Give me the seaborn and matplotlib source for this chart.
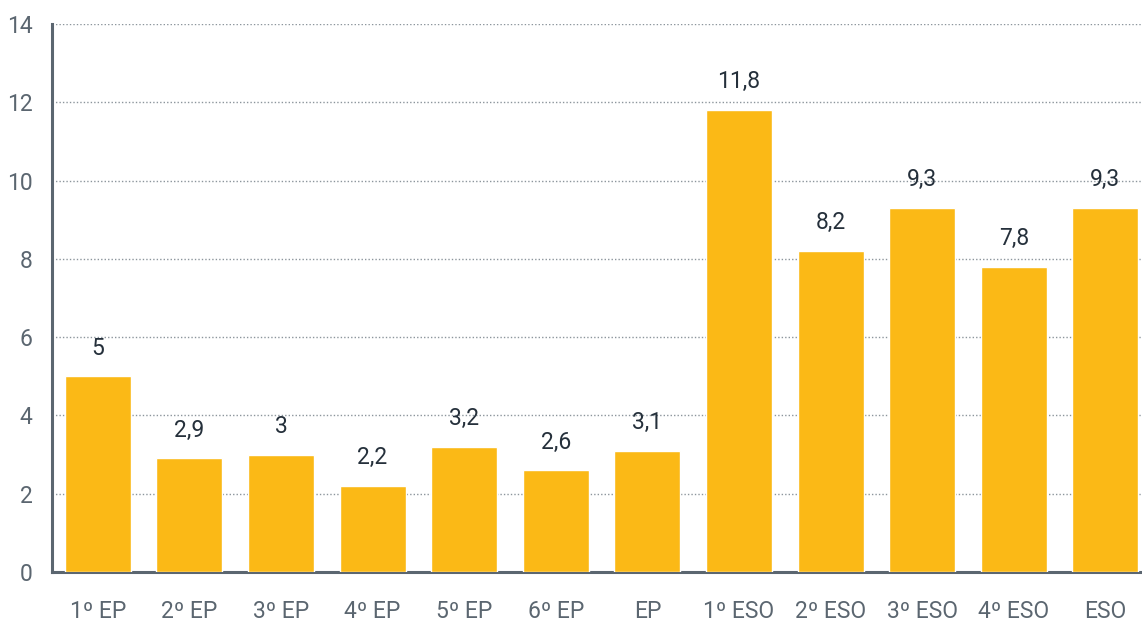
import matplotlib
matplotlib.use("Agg")
import matplotlib.pyplot as plt
import seaborn as sns
import pandas as pd

categories = ["1º EP", "2º EP", "3º EP", "4º EP", "5º EP", "6º EP", "EP",
              "1º ESO", "2º ESO", "3º ESO", "4º ESO", "ESO"]
values = [5, 2.9, 3, 2.2, 3.2, 2.6, 3.1, 11.8, 8.2, 9.3, 7.8, 9.3]
yticks = [0, 2, 4, 6, 8, 10, 12, 14]

sns.set_theme(style="white")
plt.rcParams['font.family'] = ['Roboto', 'DejaVu Sans']

df = pd.DataFrame({"cat": categories, "val": values})

fig = plt.figure(figsize=(11.42, 6.22), dpi=100)
ax = fig.add_axes([52/1142, 1-572/622, 1-52/1142, (572-24)/622])

sns.barplot(data=df, x="cat", y="val", color="#FBB916", saturation=1,
            width=0.72, ax=ax, zorder=3)

ax.set_ylim(0, 14)
ax.set_xlim(-0.5, 11.4)
ax.set_yticks(yticks)
ax.set_xlabel("")
ax.set_ylabel("")
ax.yaxis.grid(True, linestyle=(0, (1, 1.5)), color="#8c959c", linewidth=1, zorder=0)
ax.xaxis.grid(False)
for s in ["top", "right"]:
    ax.spines[s].set_visible(False)
for s in ["left", "bottom"]:
    ax.spines[s].set_color("#5b6670")
    ax.spines[s].set_linewidth(2.2)
ax.tick_params(axis="x", length=0, pad=20.5, labelsize=16.5, labelcolor="#5b6670")
ax.tick_params(axis="y", length=0, pad=14, labelsize=16.5, labelcolor="#5b6670")

for i, v in enumerate(values):
    lab = f"{v:g}".replace(".", ",")
    ax.annotate(lab, (i, v), xytext=(0, 12), textcoords="offset points",
                ha="center", va="bottom", fontsize=16.5, color="#25303b")

fig.savefig("out.png", dpi=100)
